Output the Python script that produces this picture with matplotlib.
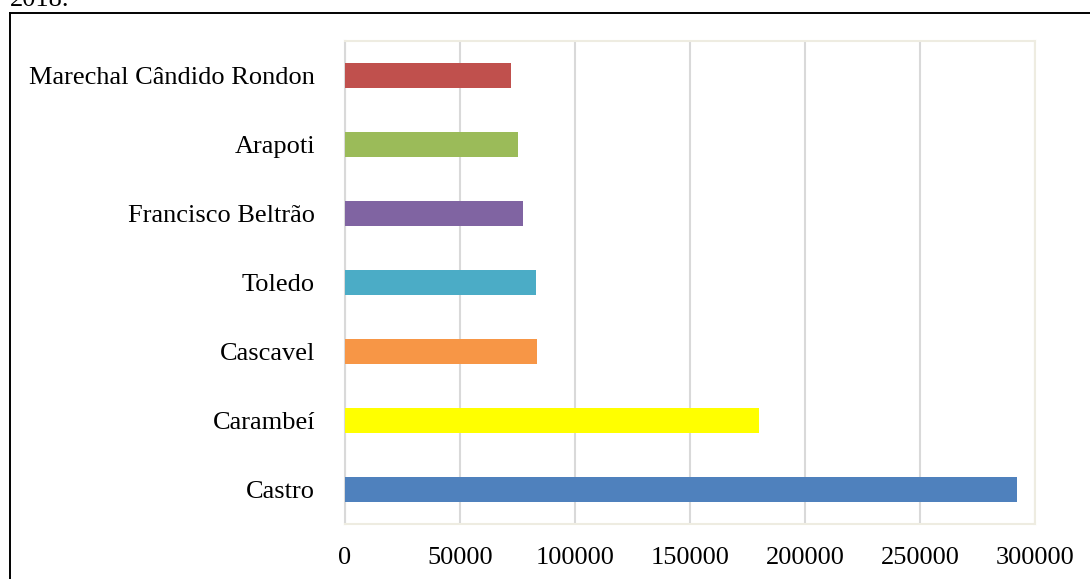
import matplotlib
matplotlib.use("Agg")
import matplotlib.pyplot as plt
from matplotlib.lines import Line2D

plt.rcParams['font.family'] = ['Liberation Serif', 'DejaVu Serif']

municipios = ["Castro", "Carambeí", "Cascavel", "Toledo",
              "Francisco Beltrão", "Arapoti", "Marechal Cândido Rondon"]
producao = [292000, 180000, 83500, 83000, 77400, 75200, 72200]
cores = ["#4F81BD", "#FFFF00", "#F79646", "#4BACC6",
         "#8064A2", "#9BBB59", "#C0504D"]
x_ticks = [0, 50000, 100000, 150000, 200000, 250000, 300000]

W, H = 1090, 579
fig = plt.figure(figsize=(W / 100, H / 100), dpi=100)
ax = fig.add_axes([345 / W, 1 - 524 / H, 690 / W, 483 / H])

pos = list(range(len(municipios)))
ax.barh(pos, producao, height=0.37, color=cores, zorder=3)

ax.set_xlim(0, 300000)
ax.set_ylim(-0.5, len(municipios) - 0.5)
ax.set_xticks(x_ticks)
ax.set_xticklabels([str(v) for v in x_ticks])
ax.set_yticks(pos)
ax.set_yticklabels(municipios)
ax.tick_params(axis='both', length=0, labelsize=19, colors='black')
ax.tick_params(axis='y', pad=21.5)
ax.tick_params(axis='x', pad=16.5)

ax.grid(axis='x', color='#D9D9D9', linewidth=1.5, zorder=0)
for side in ('top', 'right', 'bottom'):
    ax.spines[side].set_color('#EEECE1')
    ax.spines[side].set_linewidth(1.5)
ax.spines['left'].set_color('#D9D9D9')
ax.spines['left'].set_linewidth(1.5)

# outer frame around the chart (top and left edges visible)
x0 = 10 / W
y0 = 1 - 12.5 / H
fig.add_artist(Line2D([x0, 1.01], [y0, y0], transform=fig.transFigure,
                      color='black', linewidth=1.4, clip_on=False))
fig.add_artist(Line2D([x0, x0], [y0, -0.01], transform=fig.transFigure,
                      color='black', linewidth=1.4, clip_on=False))

fig.text(10 / W, 1 - 6 / H, "2018.", fontsize=19, ha='left', va='baseline')

fig.savefig("out.png", dpi=100)
